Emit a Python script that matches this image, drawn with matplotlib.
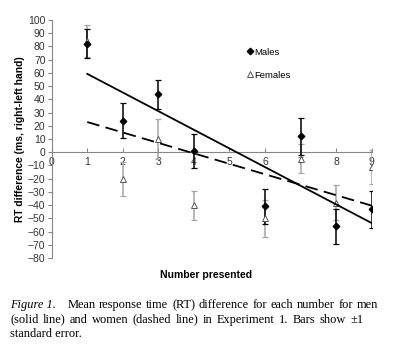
import numpy as np
import matplotlib
matplotlib.use("Agg")
import matplotlib.pyplot as plt

# values
numbers = [1, 2, 3, 4, 6, 7, 8, 9]
males = [82, 24, 44, 1, -41, 12, -56, -43]
males_se = [11, 13, 11, 13, 13, 14, 13, 14]
females = [84, -20, 10, -40, -50, -5, -38, -11]
females_se = [12, 13, 15, 11, 14, 11, 13, 13]

x_ticks = list(range(0, 10))
y_ticks = list(range(-80, 101, 10))

plt.rcParams['font.family'] = ['Liberation Sans', 'DejaVu Sans']

fig = plt.figure(figsize=(4.04, 3.54), dpi=100)
ax = fig.add_axes([0.128, 0.271, 0.792, 0.6725])

grey = "#a6a6a6"
axis_col = "#868686"

# error bars + points
ax.errorbar(numbers, females, yerr=females_se, fmt="none", ecolor=grey,
            elinewidth=1.1, capsize=2.2, capthick=0.9, zorder=2)
ax.errorbar(numbers, males, yerr=males_se, fmt="none", ecolor="black",
            elinewidth=1.1, capsize=2.2, capthick=0.9, zorder=3)
ax.plot(numbers, females, linestyle="none", marker="^", markersize=4,
        markerfacecolor="white", markeredgecolor="#555555",
        markeredgewidth=0.7, label="Females", zorder=4)
ax.plot(numbers, males, linestyle="none", marker="D", markersize=3.3,
        color="black", label="Males", zorder=5)

# linear trend lines
xs = np.array([numbers[0], numbers[-1]])
m_fit = np.polyfit(numbers, males, 1)
f_fit = np.polyfit(numbers, females, 1)
ax.plot(xs, np.polyval(m_fit, xs), color="black", lw=1.3, zorder=6)
ax.plot(xs, np.polyval(f_fit, xs), color="black", lw=1.3,
        dashes=(7, 3.5), zorder=6)

ax.set_xlim(0, 9)
ax.set_ylim(-80, 100)
ax.set_yticks(y_ticks)
ax.set_xticks(x_ticks)

for s in ["top", "right"]:
    ax.spines[s].set_visible(False)
ax.spines["bottom"].set_position(("data", 0))
ax.spines["bottom"].set_color(axis_col)
ax.spines["left"].set_color(axis_col)
ax.spines["bottom"].set_linewidth(0.8)
ax.spines["left"].set_linewidth(0.8)

ax.tick_params(axis="y", direction="out", length=3, width=0.8, color=axis_col,
               labelsize=7.5, labelcolor="#333333", pad=1.5)
ax.tick_params(axis="x", direction="in", length=3, width=0.8, color=axis_col,
               labelsize=7.5, labelcolor="#333333", pad=3.5)

ax.set_ylabel("RT difference (ms, right-left hand)", fontsize=7.4,
              fontweight="bold", labelpad=2)
fig.text(0.51, 0.222, "Number presented", fontsize=7.5, fontweight="bold",
         ha="center", va="center")

# legend
handles, labels = ax.get_legend_handles_labels()
ax.legend(handles[::-1], labels[::-1], loc="upper left",
          bbox_to_anchor=(0.6, 0.9), frameon=False, fontsize=6.8,
          handlelength=0.6, handletextpad=0.1, labelspacing=1.5,
          borderaxespad=0)

# caption (justified lines like the printed figure)
serif = ['Liberation Serif', 'DejaVu Serif']
cs = 8.9
renderer = fig.canvas.get_renderer()
fig_w = fig.get_figwidth() * fig.dpi


def justified(words, x0, x1, y):
    texts = [fig.text(0, y, w, fontsize=cs, family=serif, va="center")
             for w in words]
    widths = [t.get_window_extent(renderer).width / fig_w for t in texts]
    gap = (x1 - x0 - sum(widths)) / max(len(words) - 1, 1)
    x = x0
    for t, w in zip(texts, widths):
        t.set_x(x)
        x += w + gap


fig.text(0.025, 0.138, "Figure 1.", fontsize=cs, family=serif,
         style="italic", va="center")
justified("Mean response time (RT) difference for each number for men".split(),
          0.167, 0.935, 0.138)
justified("(solid line) and women (dashed line) in Experiment 1. Bars show \u00b11".split(),
          0.025, 0.90, 0.097)
fig.text(0.025, 0.057, "standard error.", fontsize=cs, family=serif,
         va="center")

fig.savefig("out.png", dpi=100)
